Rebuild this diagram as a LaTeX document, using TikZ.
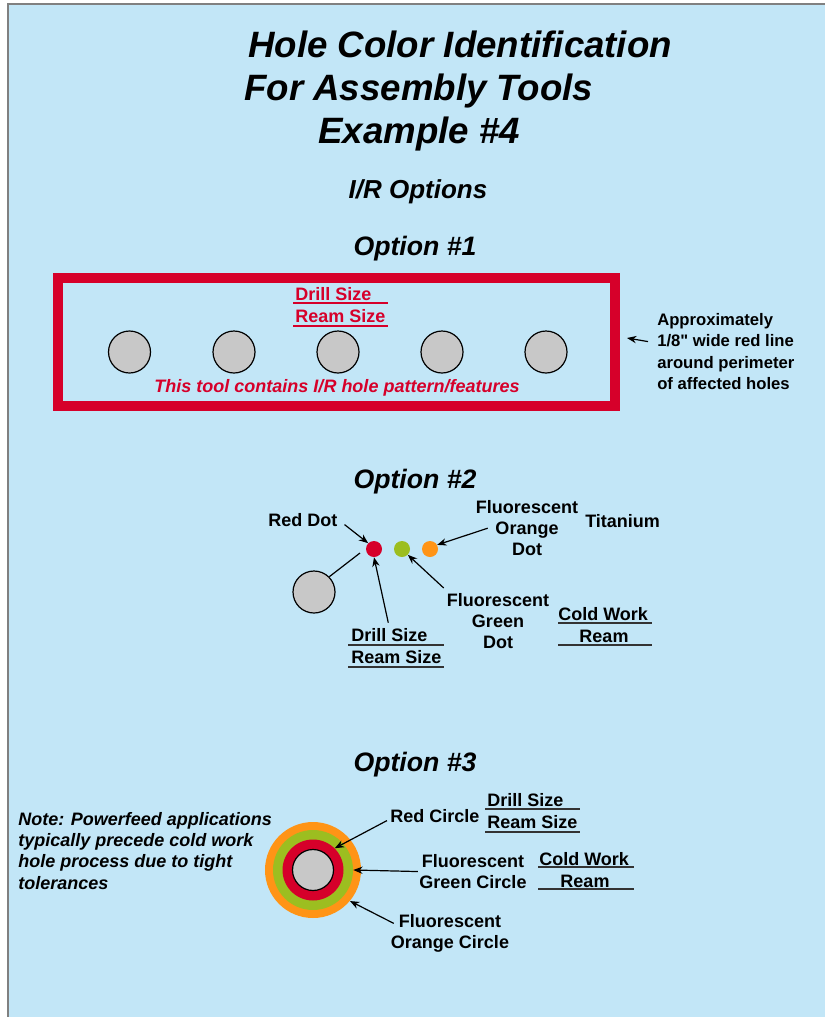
\documentclass[tikz,border=0pt]{standalone}
\usepackage{fontspec}
\setmainfont{Liberation Sans}
\usetikzlibrary{positioning,arrows,arrows.meta}

\definecolor{skyback}{RGB}{194,230,247}
\definecolor{holered}{RGB}{214,0,42}
\definecolor{holegreen}{RGB}{156,190,32}
\definecolor{holeorange}{RGB}{255,148,22}
\definecolor{holegray}{RGB}{200,200,200}

\newcommand{\inch}{{\addfontfeatures{Ligatures=TeXOff}"}}

\tikzset{
    hole/.style={circle, draw=black, line width=0.9pt, fill=holegray, minimum size=31.5pt, inner sep=0},
    colordot/.style={circle, fill=#1, minimum size=12pt, inner sep=0},
    ring/.style={circle, fill=#1, inner sep=0},
    lbl/.style={font=\bfseries\fontsize{13.5}{16}\selectfont, inner sep=0},
    redlbl/.style={lbl, text=holered},
    heading/.style={font=\bfseries\itshape\fontsize{20}{24}\selectfont, inner sep=0},
    ptr/.style={-{Stealth[length=7pt, width=5.5pt]}, line width=0.9pt},
    uline/.style={line width=0.9pt, black!80}
}

\begin{document}
\begin{tikzpicture}[x=0.75pt, y=-0.75pt]
    % Page and background
    \useasboundingbox (0,0) rectangle (825,1017);
    \fill[white] (0,0) rectangle (825,1017);
    \fill[skyback] (8,4) rectangle (825,1017);
    \draw[gray, line width=1.2pt] (8,1017) -- (8,4) -- (825,4);

    % Title
    \node[font=\bfseries\itshape\fontsize{27.5}{32}\selectfont, inner sep=0, anchor=base west] (title1) at (248,57) {Hole Color Identification};
    \node[font=\bfseries\itshape\fontsize{27.5}{32}\selectfont, inner sep=0, anchor=base west] (title2) at (244,100) {For Assembly Tools};
    \node[font=\bfseries\itshape\fontsize{27.5}{32}\selectfont, inner sep=0, anchor=base west] (title3) at (318,143) {Example \#4};
    \node[heading, font=\bfseries\itshape\fontsize{19.5}{24}\selectfont, anchor=base] (iropt) at (418,198) {I/R Options};

    % Option 1
    \node[heading, anchor=base] (opt1) at (415,255) {Option \#1};
    \node[draw=holered, line width=7.5pt, minimum width=417.75pt, minimum height=96pt, inner sep=0] (frame) at (336.5,342) {};
    \foreach \i/\x in {1/129.5,2/234,3/338,4/442,5/546}
        \node[hole] (h\i) at (\x,352) {};
    \node[redlbl, anchor=base west] (drill1) at (295,300) {Drill Size};
    \node[redlbl, anchor=base west] (ream1) at (295,322) {Ream Size};
    \draw[uline, holered] (293,303) -- (388,303);
    \draw[uline, holered] (293,326) -- (388,326);
    \node[redlbl, font=\bfseries\itshape\fontsize{13.5}{16}\selectfont, anchor=base] (irnote) at (337,392) {This tool contains I/R hole pattern/features};
    \node[lbl, font=\bfseries\fontsize{12.5}{16.1}\selectfont, align=left, anchor=north west] (approx) at (657,313)
        {Approximately\\1/8\inch{} wide red line\\around perimeter\\of affected holes};
    \draw[ptr] ([shift={(-9,-10)}]approx.west) -- ([shift={(7,-4)}]frame.east);

    % Option 2
    \node[heading, anchor=base] (opt2) at (415,488) {Option \#2};
    \node[colordot=holered] (rdot) at (374,549) {};
    \node[colordot=holegreen] (gdot) at (402,549) {};
    \node[colordot=holeorange] (odot) at (430,549) {};
    \node[hole] (hole2) at (314,592) {};
    \coordinate (holeend) at (360,553);
    \draw[line width=0.9pt] (hole2.north east) -- (holeend);

    \node[lbl, anchor=base west] (rdlbl) at (268,526) {Red Dot};
    \draw[ptr] ([shift={(7,5)}]rdlbl.east) -- (rdot.north west);

    \node[lbl, anchor=base west] (drill2) at (351,641) {Drill Size};
    \node[lbl, anchor=base west] (ream2) at (351,663) {Ream Size};
    \draw[uline] (348,645) -- (444,645);
    \draw[uline] (348,667) -- (444,667);
    \draw[ptr] ([shift={(-1,-5)}]drill2.north) -- (rdot.south);

    \node[lbl, align=center, anchor=north] (odlbl) at (527,500) {Fluorescent\\Orange\\Dot};
    \node[lbl, anchor=base west] (titan) at (585,527) {Titanium};
    \draw[ptr] ([xshift=9pt]odlbl.west) -- (odot.30);

    \node[lbl, align=center, anchor=north] (gdlbl) at (498,593) {Fluorescent\\Green\\Dot};
    \draw[ptr] ([shift={(-3,-5)}]gdlbl.north west) -- (gdot.south east);

    \node[lbl, anchor=base west] (cold2) at (558,620) {Cold Work};
    \node[lbl, anchor=base] (cream2) at (604,642) {Ream};
    \draw[uline] (558,623) -- (652,623);
    \draw[uline] (558,645) -- (652,645);

    % Option 3
    \node[heading, anchor=base] (opt3) at (415,771) {Option \#3};
    \node[lbl, font=\bfseries\itshape\fontsize{13.5}{16}\selectfont, align=left, anchor=north west] (note) at (18,812)
        {Note: Powerfeed applications\\typically precede cold work\\hole process due to tight\\tolerances};
    \node[ring=holeorange, minimum size=72pt] (oring) at (313,870) {};
    \node[ring=holegreen, minimum size=60pt] (gring) at (313,870) {};
    \node[ring=holered, minimum size=45.75pt] (rring) at (313,870) {};
    \node[hole, minimum size=30.75pt] (hole3) at (313,870) {};

    \node[lbl, anchor=base west] (rclbl) at (390,822) {Red Circle};
    \draw[ptr] ([shift={(-3,5)}]rclbl.west) -- (rring.north east);

    \node[lbl, anchor=base west] (drill3) at (487,806) {Drill Size};
    \node[lbl, anchor=base west] (ream3) at (487,828) {Ream Size};
    \draw[uline] (485,809) -- (580,809);
    \draw[uline] (485,832) -- (580,832);

    \node[lbl, align=center, anchor=north] (gclbl) at (473,854) {Fluorescent\\Green Circle};
    \draw[ptr] ([xshift=-1pt]gclbl.west) -- (gring.east);

    \node[lbl, anchor=base west] (cold3) at (539,865) {Cold Work};
    \node[lbl, anchor=base] (cream3) at (585,887) {Ream};
    \draw[uline] (538,867) -- (634,867);
    \draw[uline] (538,889) -- (634,889);

    \node[lbl, align=center, anchor=north] (oclbl) at (450,914) {Fluorescent\\Orange Circle};
    \draw[ptr] ([shift={(3,-10)}]oclbl.west) -- (oring.-40);
\end{tikzpicture}
\end{document}
